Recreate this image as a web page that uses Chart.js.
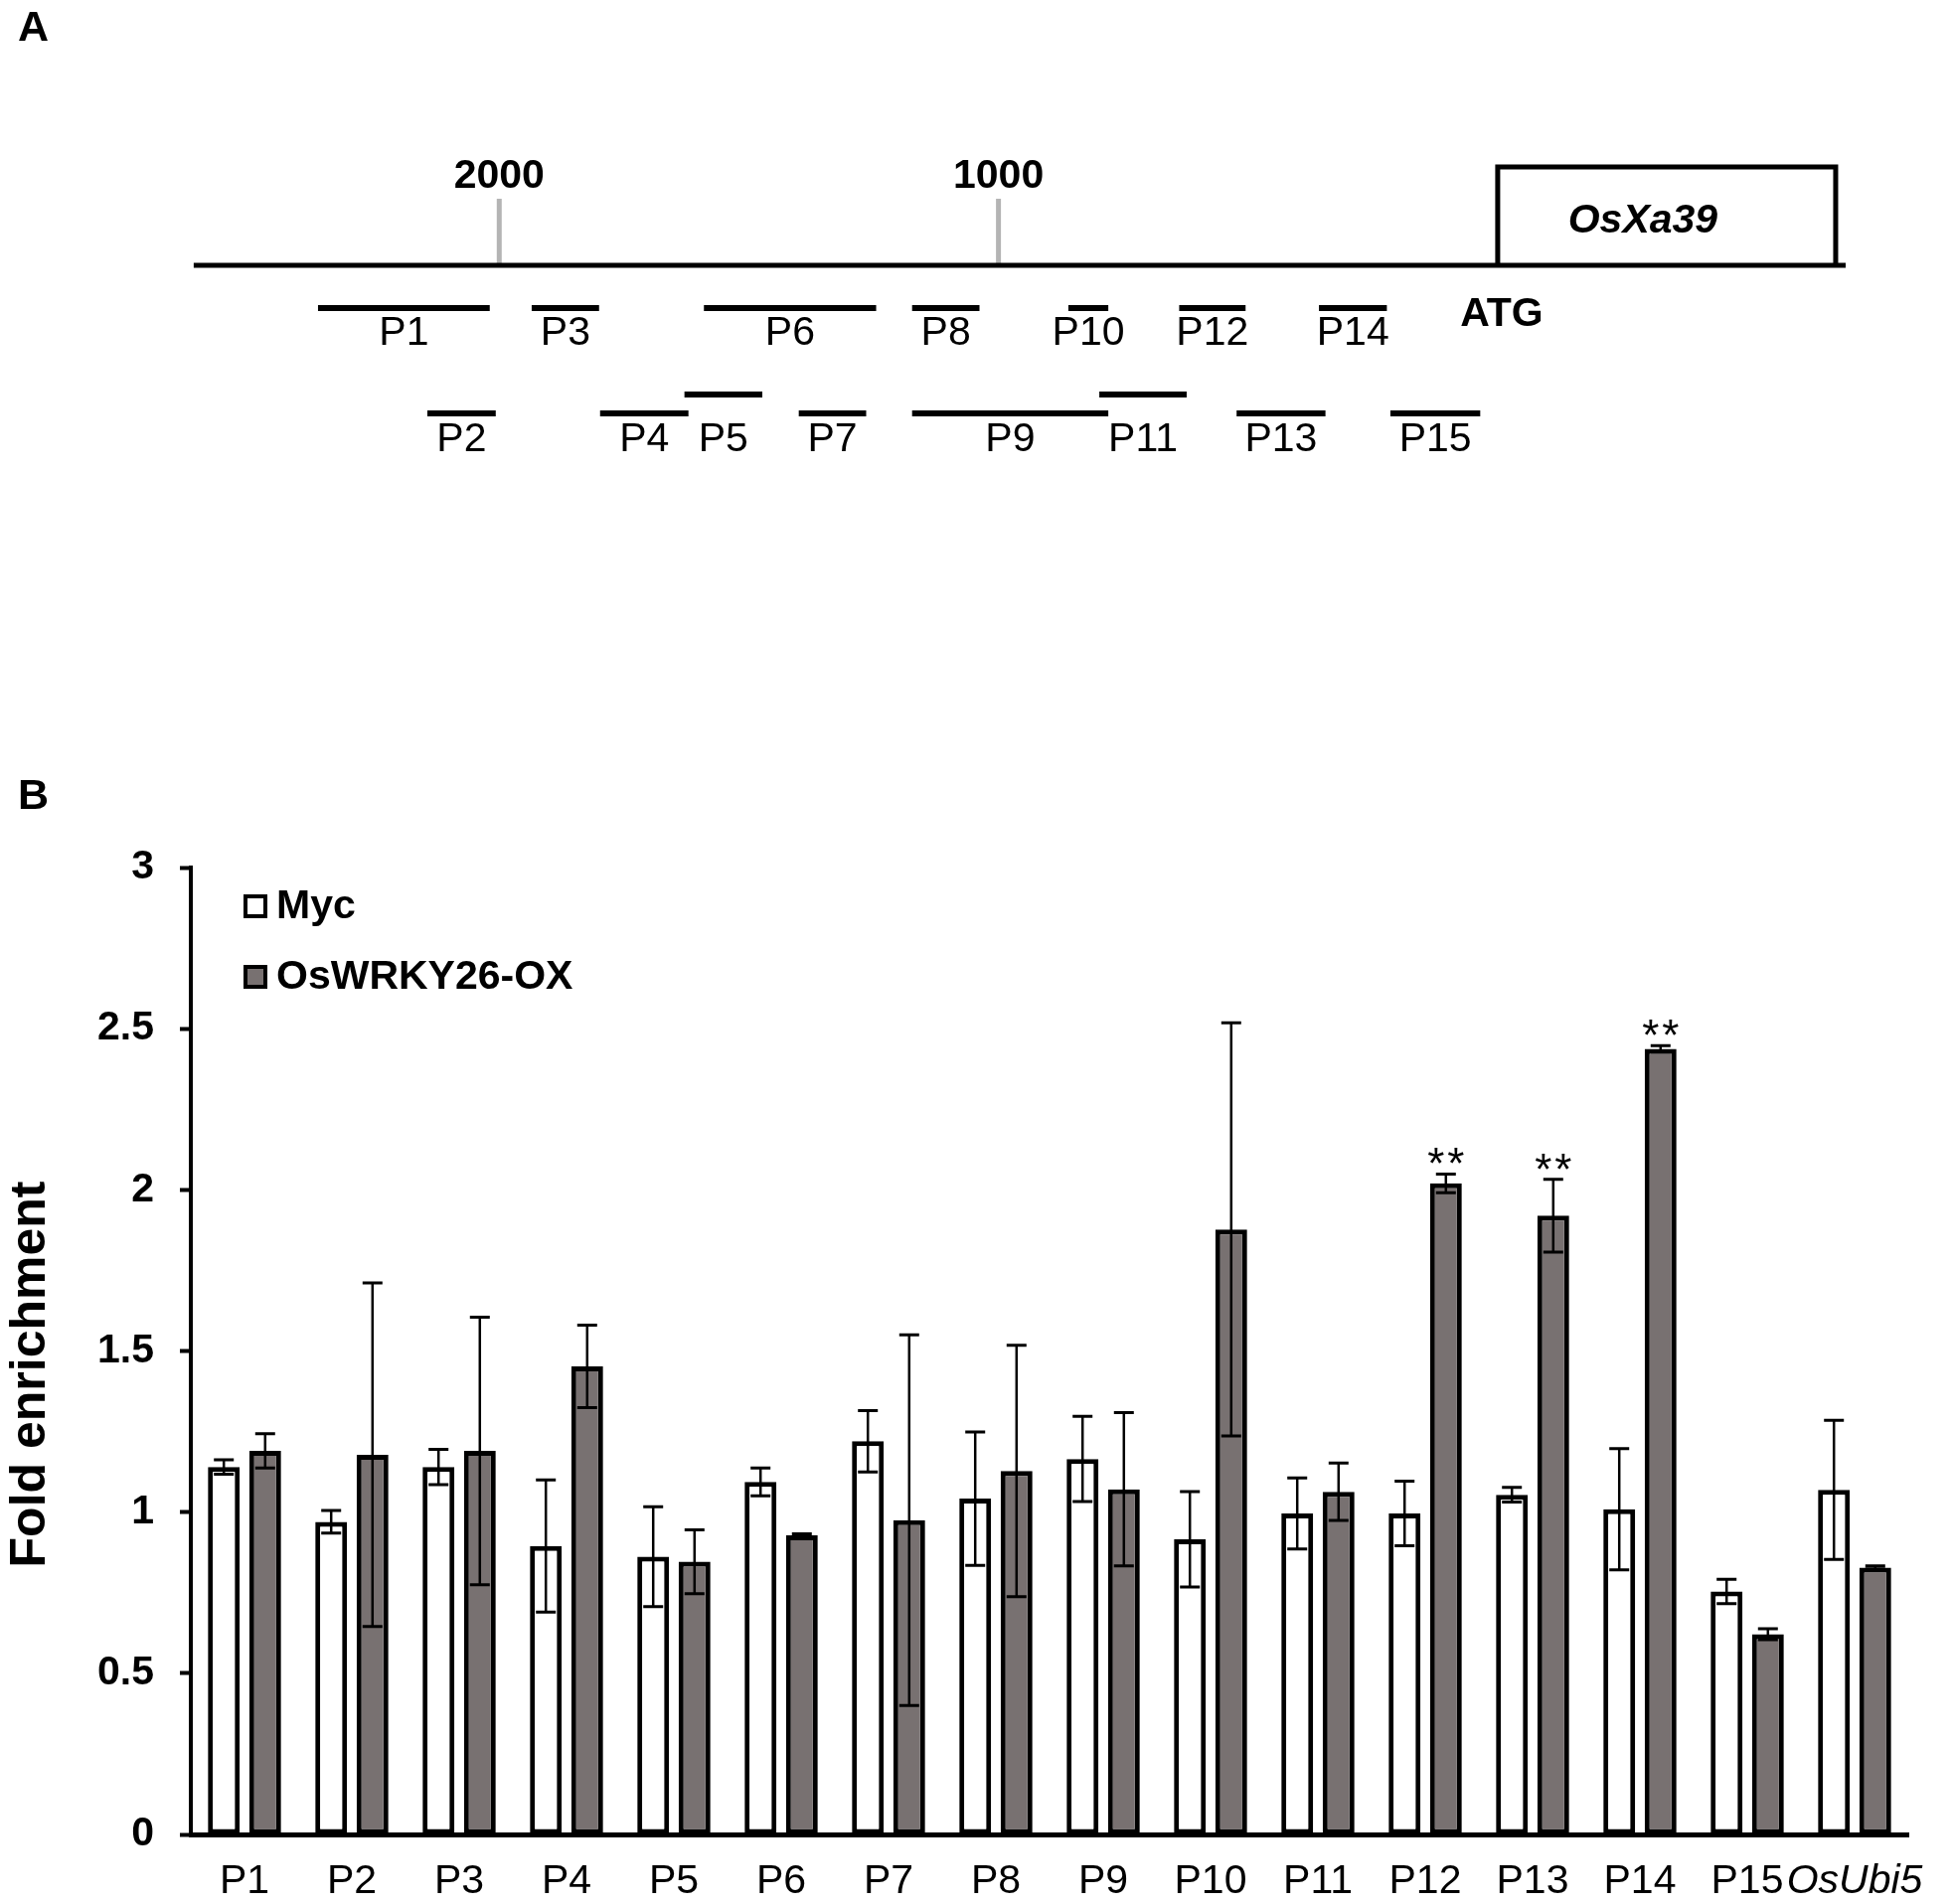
<!DOCTYPE html>
<html>
<head>
<meta charset="utf-8">
<script src="https://cdn.jsdelivr.net/npm/chart.js@4.4.1/dist/chart.umd.min.js"></script>
<style>
html,body{margin:0;padding:0;background:#fff;}
#wrap{position:relative;width:1964px;height:1916px;overflow:hidden;background:#fff;}
#cA{position:absolute;left:0;top:0;}
#cB{position:absolute;left:0;top:560px;}
</style>
</head>
<body>
<div id="wrap">
<canvas id="cA" width="1964" height="560"></canvas>
<canvas id="cB" width="1964" height="1356"></canvas>
</div>
<script>
// ---------------- Panel B data ----------------
const categories = ['P1','P2','P3','P4','P5','P6','P7','P8','P9','P10','P11','P12','P13','P14','P15','OsUbi5'];
const seriesNames = ['Myc', 'OsWRKY26-OX'];
const mycMean = [1.14, 0.97, 1.14, 0.895, 0.862, 1.094, 1.22, 1.042, 1.165, 0.916, 0.996, 0.996, 1.054, 1.009, 0.754, 1.069];
const mycErr  = [0.022, 0.035, 0.055, 0.205, 0.155, 0.043, 0.095, 0.207, 0.132, 0.148, 0.11, 0.1, 0.023, 0.188, 0.038, 0.216];
const oxMean  = [1.19, 1.178, 1.19, 1.452, 0.846, 0.928, 0.975, 1.128, 1.071, 1.877, 1.063, 2.02, 1.92, 2.437, 0.621, 0.828];
const oxErr   = [0.053, 0.533, 0.415, 0.128, 0.099, 0.005, 0.575, 0.39, 0.238, 0.641, 0.089, 0.029, 0.113, 0.01, 0.017, 0.005];
const significance = ['', '', '', '', '', '', '', '', '', '', '', '**', '**', '**', '', ''];
const yMin = 0, yMax = 3, yStep = 0.5;
const yTitle = 'Fold enrichment';

// ---------------- Panel A data (bp relative to ATG; upstream negative) ----------------
const primerNames = ['P1','P2','P3','P4','P5','P6','P7','P8','P9','P10','P11','P12','P13','P14','P15'];
const primerStart = [-2363, -2144, -1935, -1798, -1629, -1590, -1400, -1173, -1173, -860, -798, -638, -523, -358, -215];
const primerEnd   = [-2019, -2007, -1800, -1621, -1473, -1245, -1265, -1038, -780, -780, -623, -505, -345, -222, -35];
const primerRow   = [1, 2, 1, 2, 3, 1, 2, 1, 2, 1, 3, 1, 2, 1, 2];
const promoterStart = -2612, promoterEnd = 697;
const scaleMarks = [2000, 1000];
const geneName = 'OsXa39';
const geneStart = 0, geneEnd = 677;
const startCodon = 'ATG';

// ---------------- Styles / layout ----------------
const FONT = "'Liberation Sans', Arial, Helvetica, sans-serif";
const GRAY = 'rgb(120,113,113)';
Chart.defaults.font.family = FONT;
Chart.defaults.color = '#000';

// Panel A vertical layout (units = px above the promoter line)
const A_LEVEL = {line: 0, boxTop: 99, tickTop: 67, row1: -43, row2: -149, row3: -130,
                 lab1: -69, lab2: -176, markLab: 89, atg: -50, gene: 44};
const rowLevel = {1: A_LEVEL.row1, 2: A_LEVEL.row2, 3: A_LEVEL.row3};
const rowLabel = {1: A_LEVEL.lab1, 2: A_LEVEL.lab2, 3: A_LEVEL.lab2};

function seg(points, color, width) {
  return {data: points, showLine: true, borderColor: color, borderWidth: width,
          pointRadius: 0, fill: false, tension: 0, borderJoinStyle: 'miter', borderCapStyle: 'butt'};
}

const aDatasets = [];
aDatasets.push(seg([{x: promoterStart, y: A_LEVEL.line}, {x: promoterEnd, y: A_LEVEL.line}], '#000', 5));
aDatasets.push(seg([{x: geneStart, y: A_LEVEL.line}, {x: geneStart, y: A_LEVEL.boxTop},
                    {x: geneEnd, y: A_LEVEL.boxTop}, {x: geneEnd, y: A_LEVEL.line}], '#000', 5));
scaleMarks.forEach(m => aDatasets.push(seg([{x: -m, y: A_LEVEL.line}, {x: -m, y: A_LEVEL.tickTop}], '#b4b4b4', 5)));
primerNames.forEach((n, i) => aDatasets.push(seg([{x: primerStart[i], y: rowLevel[primerRow[i]]},
                                                 {x: primerEnd[i], y: rowLevel[primerRow[i]]}], '#000', 6)));

const panelALabels = {
  id: 'panelALabels',
  afterDraw(chart) {
    const {ctx} = chart; const xs = chart.scales.x, ys = chart.scales.y;
    ctx.save();
    ctx.fillStyle = '#000';
    ctx.textAlign = 'left'; ctx.textBaseline = 'alphabetic';
    ctx.font = 'bold 43px ' + FONT;
    ctx.fillText('A', 18, 41);
    ctx.textAlign = 'center'; ctx.textBaseline = 'middle';
    ctx.font = 'bold 41px ' + FONT;
    scaleMarks.forEach(m => ctx.fillText(String(m), xs.getPixelForValue(-m), ys.getPixelForValue(A_LEVEL.markLab)));
    ctx.fillText(startCodon, xs.getPixelForValue(geneStart) + 4, ys.getPixelForValue(A_LEVEL.atg));
    ctx.font = 'italic bold 41px ' + FONT;
    ctx.fillText(geneName, xs.getPixelForValue((geneStart + geneEnd) / 2) - 24, ys.getPixelForValue(A_LEVEL.gene));
    ctx.font = '41px ' + FONT;
    primerNames.forEach((n, i) => {
      const cx = xs.getPixelForValue((primerStart[i] + primerEnd[i]) / 2);
      ctx.fillText(n, cx, ys.getPixelForValue(rowLabel[primerRow[i]]));
    });
    ctx.restore();
  }
};

new Chart(document.getElementById('cA'), {
  type: 'scatter',
  data: {datasets: aDatasets},
  options: {
    responsive: false, animation: false, devicePixelRatio: 1, events: [],
    layout: {padding: 0},
    plugins: {legend: {display: false}, tooltip: {enabled: false}},
    scales: {
      x: {type: 'linear', min: -3000, max: 910, display: false},
      y: {type: 'linear', min: -293, max: 267, display: false}
    }
  },
  plugins: [panelALabels]
});

// ---------------- Panel B ----------------
const errorBars = {
  id: 'errorBars',
  afterDatasetsDraw(chart) {
    const {ctx} = chart; const ys = chart.scales.y;
    chart.data.datasets.forEach((ds, i) => {
      const meta = chart.getDatasetMeta(i);
      meta.data.forEach((bar, j) => {
        const v = ds.data[j], e = ds.errors[j];
        const yt = ys.getPixelForValue(v + e), yb = ys.getPixelForValue(v - e);
        const hw = 10;
        ctx.save();
        ctx.strokeStyle = '#000';
        ctx.lineWidth = 2.5;
        ctx.beginPath(); ctx.moveTo(bar.x, yt); ctx.lineTo(bar.x, yb); ctx.stroke();
        ctx.lineWidth = 3;
        ctx.beginPath();
        ctx.moveTo(bar.x - hw, yt); ctx.lineTo(bar.x + hw, yt);
        ctx.moveTo(bar.x - hw, yb); ctx.lineTo(bar.x + hw, yb);
        ctx.stroke();
        const mark = ds.marks && ds.marks[j];
        if (mark) {
          ctx.fillStyle = '#000';
          ctx.font = '44px ' + FONT;
          ctx.textAlign = 'center'; ctx.textBaseline = 'alphabetic';
          const n = mark.length, gap = 20;
          for (let k = 0; k < n; k++) {
            ctx.fillText(mark[k], bar.x + (k - (n - 1) / 2) * gap, yt + 5);
          }
        }
        ctx.restore();
      });
    });
  }
};

const panelBDecor = {
  id: 'panelBDecor',
  afterDraw(chart) {
    const {ctx, chartArea} = chart;
    ctx.save();
    ctx.fillStyle = '#000';
    ctx.font = 'bold 43px ' + FONT;
    ctx.textAlign = 'left'; ctx.textBaseline = 'alphabetic';
    ctx.fillText('B', 18, 254);
    // y title
    ctx.save();
    ctx.translate(31, 823);
    ctx.rotate(-Math.PI / 2);
    ctx.font = 'bold 50px ' + FONT;
    ctx.textAlign = 'center'; ctx.textBaseline = 'middle';
    ctx.fillText(yTitle, 0, 0);
    ctx.restore();
    // legend
    chart.data.datasets.forEach((ds, i) => {
      const sx = chartArea.left + 53, cy = chartArea.top + 39 + i * 71, s = 24;
      ctx.fillStyle = ds.backgroundColor;
      ctx.fillRect(sx, cy - s / 2, s, s);
      ctx.strokeStyle = '#000'; ctx.lineWidth = 4;
      ctx.strokeRect(sx + 2, cy - s / 2 + 2, s - 4, s - 4);
      ctx.fillStyle = '#000';
      ctx.font = 'bold 41px ' + FONT;
      ctx.textAlign = 'left'; ctx.textBaseline = 'middle';
      ctx.fillText(ds.label, sx + s + 9, cy + 1);
    });
    ctx.restore();
  }
};

new Chart(document.getElementById('cB'), {
  type: 'bar',
  data: {
    labels: categories,
    datasets: [
      {label: seriesNames[0], data: mycMean, errors: mycErr, backgroundColor: '#ffffff',
       borderColor: '#000', borderWidth: 5, borderSkipped: false,
       categoryPercentage: 0.77, barPercentage: 0.77},
      {label: seriesNames[1], data: oxMean, errors: oxErr, marks: significance, backgroundColor: GRAY,
       borderColor: '#000', borderWidth: 5, borderSkipped: false,
       categoryPercentage: 0.77, barPercentage: 0.77}
    ]
  },
  options: {
    responsive: false, animation: false, devicePixelRatio: 1, events: [],
    layout: {padding: {top: 313, right: 44, bottom: 0, left: 0}},
    plugins: {legend: {display: false}, tooltip: {enabled: false}},
    scales: {
      x: {
        grid: {display: false, drawTicks: false},
        border: {display: true, color: '#000', width: 5, z: 1},
        ticks: {color: '#000', padding: 23, autoSkip: false, maxRotation: 0,
                font: (c) => ({family: FONT, size: 41, style: (categories[c.index] === 'OsUbi5') ? 'italic' : 'normal'})},
        afterFit: (s) => { s.height = 70; }
      },
      y: {
        min: yMin, max: yMax,
        ticks: {stepSize: yStep, color: '#000', padding: 26, font: {family: FONT, size: 41, weight: 'bold'},
                callback: (v) => String(Math.round(v * 10) / 10)},
        grid: {display: true, drawOnChartArea: false, drawTicks: true, tickLength: 11, tickWidth: 4, tickColor: '#000', color: '#000'},
        border: {display: true, color: '#000', width: 4, z: 1},
        afterFit: (s) => { s.width = 192; }
      }
    }
  },
  plugins: [errorBars, panelBDecor]
});
</script>
</body>
</html>
